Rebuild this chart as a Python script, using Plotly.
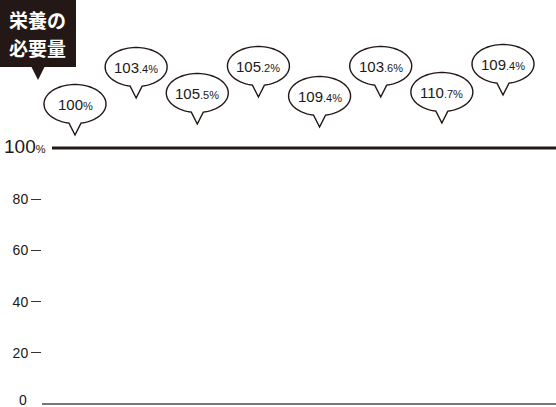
import numpy as np
import plotly.graph_objects as go

# ---- data ----
groups = [1, 2, 3, 4, 5, 6, 7, 8]
values = [100, 103.4, 105.5, 105.2, 109.4, 103.6, 110.7, 109.4]
y_ticks = [20, 40, 60, 80]
y_tick_labels = ["20", "40", "60", "80"]
reference_level = 100
title_lines = ["栄養の", "必要量"]

# ---- style ----
W, H = 556, 407
INK = "#231815"
NUM_FONT = "Liberation Sans, Arial, sans-serif"
JP_FONT = "Noto Sans CJK JP, sans-serif"
tip_offsets = [13, 50, 24, 51, 21, 51, 25, 53]  # px above the 100 line
ell_a, ell_b, ell_cy = 31, 19.5, 31
tail_half = 6

x_left_px = 42
xdom0 = x_left_px / W
pos = list(range(len(groups)))
scale = (503 - 75) / (len(groups) - 1)
r0 = -(75 - x_left_px) / scale
r1 = r0 + (W - x_left_px) / scale
yr0 = -3 / 2.56
yr1 = yr0 + H / 2.56

bx = lambda px: px / W
by = lambda py: 1 - py / H


def bubble_path(off):
    ts = np.linspace(-np.arccos(tail_half / ell_a), np.pi + np.arccos(tail_half / ell_a), 80)
    pts = [(ell_a * np.cos(t), off + ell_cy + ell_b * np.sin(t)) for t in ts]
    return ("M %.2f,%.2f " % pts[0] + " ".join("L %.2f,%.2f" % p for p in pts[1:])
            + f" L 0,{off} Z")


def fmt(v):
    s = f"{v:g}"
    if "." in s:
        ip, dp = s.split(".")
        return f"{ip}<span style='font-size:11px'>.{dp}%</span>"
    return f"{s}<span style='font-size:11px'>%</span>"


fig = go.Figure()
fig.add_trace(go.Scatter(x=pos, y=values, mode="markers",
                         marker=dict(opacity=0), hoverinfo="y", showlegend=False))

shapes = []
annotations = []

# reference 100% line
shapes.append(dict(type="line", xref="paper", yref="y", x0=bx(52), x1=1,
                   y0=reference_level, y1=reference_level, line=dict(color=INK, width=3)))
# baseline
shapes.append(dict(type="line", xref="paper", yref="y", x0=bx(42), x1=1, y0=0, y1=0,
                   line=dict(color="#4a4a4a", width=1.5)))

for i, v in enumerate(values):
    shapes.append(dict(type="path", xref="x", yref="y", xsizemode="pixel", ysizemode="pixel",
                       xanchor=pos[i], yanchor=reference_level,
                       path=bubble_path(tip_offsets[i]),
                       fillcolor="white", line=dict(color=INK, width=1.4)))
    annotations.append(dict(x=pos[i], y=reference_level, xref="x", yref="y",
                            xanchor="center", yanchor="middle",
                            yshift=tip_offsets[i] + ell_cy, showarrow=False,
                            text=fmt(v), font=dict(family=NUM_FONT, size=15, color=INK)))

# 100% label
annotations.append(dict(x=bx(48), y=reference_level, xref="paper", yref="y",
                        xanchor="right", yanchor="middle", yshift=2, showarrow=False,
                        text=f"{reference_level}<span style='font-size:11px'>%</span>",
                        font=dict(family=NUM_FONT, size=19, color=INK)))
# zero label
annotations.append(dict(x=bx(29), y=0, xref="paper", yref="y",
                        xanchor="right", yanchor="middle", yshift=4, showarrow=False, text="0",
                        font=dict(family=NUM_FONT, size=14, color=INK)))

# title box
shapes.append(dict(type="rect", xref="paper", yref="paper", x0=bx(0), x1=bx(76), y0=by(67), y1=by(0),
                   fillcolor=INK, line=dict(width=0)))
shapes.append(dict(type="path", xref="paper", yref="paper",
                   path=f"M {bx(31)},{by(66)} L {bx(38)},{by(80)} L {bx(45)},{by(66)} Z",
                   fillcolor=INK, line=dict(width=0)))
for j, line in enumerate(title_lines):
    annotations.append(dict(x=bx(37), y=by(20 + 27 * j), xref="paper", yref="paper",
                            xanchor="center", yanchor="middle",
                            showarrow=False, text=f"<b>{line}</b>",
                            font=dict(family=JP_FONT, size=19, color="white")))

fig.update_layout(
    width=W, height=H, margin=dict(l=0, r=0, t=0, b=0),
    paper_bgcolor="white", plot_bgcolor="white",
    xaxis=dict(domain=[xdom0, 1], range=[r0, r1], visible=False, fixedrange=True),
    yaxis=dict(range=[yr0, yr1], tickvals=y_ticks, ticktext=y_tick_labels,
               ticks="outside", ticklen=10, tickwidth=1.3, tickcolor="#333",
               showgrid=False, zeroline=False, showline=False, automargin=False,
               fixedrange=True, tickfont=dict(family=NUM_FONT, size=14, color=INK)),
    shapes=shapes, annotations=annotations, showlegend=False,
)

fig.write_html("out.html", config={"displayModeBar": False},
               post_script="document.body.style.margin='0';")
